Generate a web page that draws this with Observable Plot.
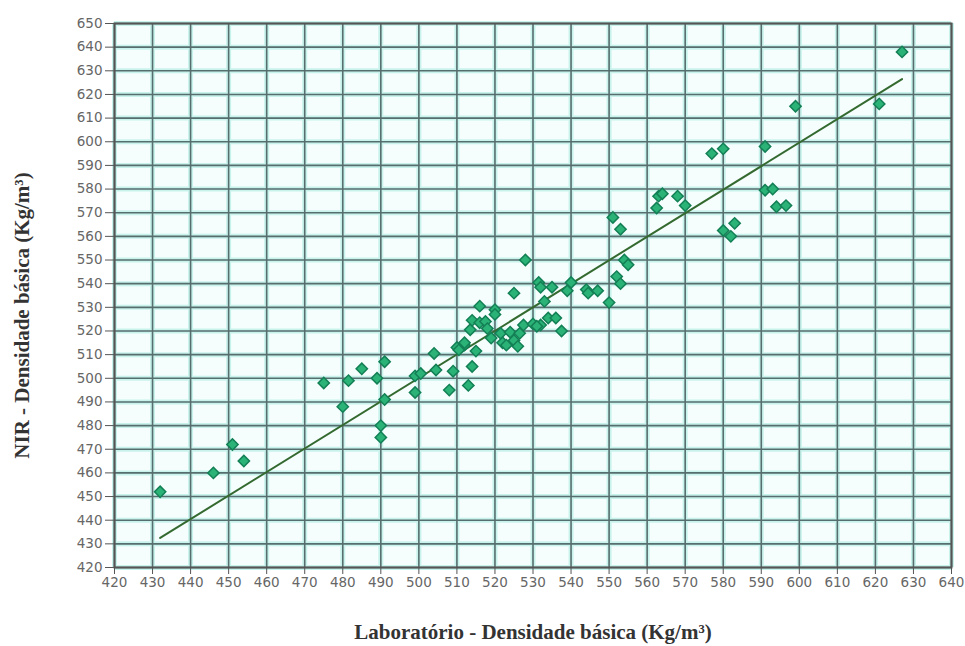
<!DOCTYPE html>
<html>
<head>
<meta charset="utf-8">
<script src="https://cdn.jsdelivr.net/npm/d3@7"></script>
<script src="https://cdn.jsdelivr.net/npm/@observablehq/plot@0.6"></script>
<style>
  html, body { margin: 0; padding: 0; background: #ffffff; }
  #chart svg { display: block; }
</style>
</head>
<body>
<div id="chart"></div>
<script>
// Laboratório (x) vs NIR (y) basic density, Kg/m³
const labX = [432, 446, 451, 454, 475, 480, 481.5, 485, 489, 490, 490, 491, 491, 499, 499, 500.5,
  504, 504.5, 508, 509, 510, 512, 513, 514, 515, 513.5, 514, 512, 516, 516, 520, 520, 517.5,
  521.5, 522, 524, 525, 526, 526.5, 527.5, 525, 528, 531.5, 532, 533, 532, 534, 536, 535,
  537.5, 539, 540, 544, 544.5, 547, 550, 551, 553, 552, 553, 554, 555, 563, 564, 562.5, 568,
  570, 577, 580, 580, 583, 582, 591, 591, 593, 594, 596.5, 599, 621, 627,
  519, 523, 530, 531, 510.5, 518];
const nirY = [452, 460, 472, 465, 498, 488, 499, 504, 500, 480, 475, 491, 507, 494, 501, 502,
  510.5, 503.5, 495, 503, 513, 514, 497, 505, 511.5, 520.5, 524.5, 515, 523.5, 530.5, 529, 527, 524,
  519, 515, 519.5, 516, 513.5, 519, 522.5, 536, 550, 540.5, 538.5, 532.5, 522.5, 525.5, 525.5, 538.5,
  520, 537, 540.5, 537.5, 536, 537, 532, 568, 563, 543, 540, 550, 548, 577, 578, 572, 577,
  573, 595, 597, 562.5, 565.5, 560, 598, 579.5, 580, 572.5, 573, 615, 616, 638,
  517, 514, 523, 522, 512, 521];

// fitted line end points
const fitX = [432, 627];
const fitY = [432.5, 626.5];

const xTicks = [420, 430, 440, 450, 460, 470, 480, 490, 500, 510, 520, 530, 540, 550, 560, 570, 580, 590, 600, 610, 620, 630, 640];
const yTicks = [420, 430, 440, 450, 460, 470, 480, 490, 500, 510, 520, 530, 540, 550, 560, 570, 580, 590, 600, 610, 620, 630, 640, 650];

const xTitle = "Laboratório - Densidade básica (Kg/m³)";
const yTitle = "NIR - Densidade básica (Kg/m³)";

const points = labX.map((x, i) => ({x, y: nirY[i]}));
const fit = fitX.map((x, i) => ({x, y: fitY[i]}));

const gridColor = "#566e6e";
const haloColor = "#c8f2ec";
const tickFont = "DejaVu Sans, sans-serif";
const titleFont = "Liberation Serif, DejaVu Serif, serif";

const chart = Plot.plot({
  width: 965,
  height: 646,
  marginLeft: 114,
  marginRight: 14,
  marginTop: 23,
  marginBottom: 79,
  style: {background: "#ffffff", fontFamily: tickFont, fontSize: "13.5px", color: "#555"},
  x: {domain: [420, 640], label: null},
  y: {domain: [420, 650], label: null},
  marks: [
    Plot.frame({fill: "#f5fefd", stroke: null}),
    Plot.gridX(xTicks, {stroke: haloColor, strokeOpacity: 1, strokeWidth: 5}),
    Plot.gridY(yTicks, {stroke: haloColor, strokeOpacity: 1, strokeWidth: 5}),
    Plot.gridX(xTicks, {stroke: gridColor, strokeOpacity: 1, strokeWidth: 1.6}),
    Plot.gridY(yTicks, {stroke: gridColor, strokeOpacity: 1, strokeWidth: 1.6}),
    Plot.frame({stroke: "#555", strokeWidth: 2}),
    Plot.axisX(xTicks, {tickSize: 7, tickPadding: 3, stroke: "#555", fill: "#666", fontSize: 13.5, label: null}),
    Plot.axisY(yTicks, {tickSize: 9, tickPadding: 3, stroke: "#555", fill: "#666", fontSize: 13.5, label: null}),
    Plot.line(fit, {x: "x", y: "y", stroke: "#346a30", strokeWidth: 2}),
    Plot.dot(points, {x: "x", y: "y", symbol: "square", rotate: 45, r: 4.5,
      fill: "#2bb377", stroke: "#137f55", strokeWidth: 1.5, fillOpacity: 1}),
    Plot.text([xTitle], {frameAnchor: "bottom", dy: 71, text: d => d, textAnchor: "middle",
      fontFamily: titleFont, fontSize: 21, fontWeight: "bold", fill: "#333"}),
    Plot.text([yTitle], {frameAnchor: "left", dx: -92, dy: 20, rotate: -90, text: d => d, textAnchor: "middle",
      fontFamily: titleFont, fontSize: 21, fontWeight: "bold", fill: "#333"})
  ]
});

document.getElementById("chart").appendChild(chart);
</script>
</body>
</html>
